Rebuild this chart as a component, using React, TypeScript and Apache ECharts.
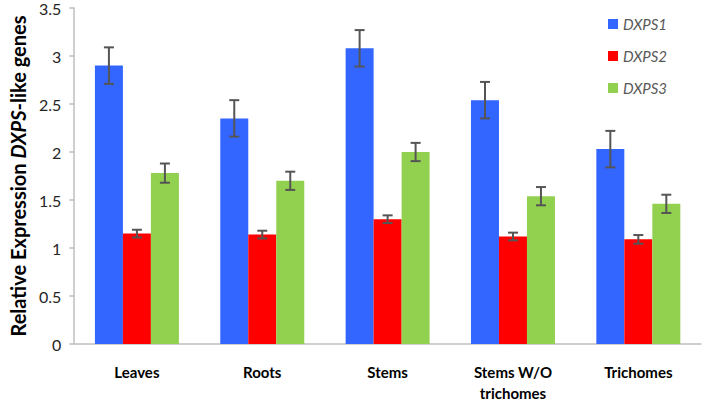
import React, { useEffect, useRef } from "react";
import * as echarts from "echarts";

const categories = ["Leaves", "Roots", "Stems", "Stems W/O\ntrichomes", "Trichomes"];
const seriesNames = ["DXPS1", "DXPS2", "DXPS3"];
const dxps1 = [2.9, 2.35, 3.08, 2.54, 2.03];
const dxps2 = [1.15, 1.14, 1.3, 1.12, 1.09];
const dxps3 = [1.78, 1.7, 2.0, 1.54, 1.46];
const err1 = [0.19, 0.19, 0.19, 0.19, 0.19];
const err2 = [0.04, 0.04, 0.04, 0.04, 0.045];
const err3 = [0.1, 0.095, 0.095, 0.095, 0.095];
const colors = ["#3366FF", "#FF0000", "#92D050"];

const FONT = "Lato";
const CAT_GAP = 0.33;

export default function App() {
  const ref = useRef<HTMLDivElement>(null);
  useEffect(() => {
    if (!ref.current) return;
    const chart = echarts.init(ref.current, null, { renderer: "svg" });
    const values = [dxps1, dxps2, dxps3];
    const errs = [err1, err2, err3];

    const barSeries = values.map((v, k) => ({
      name: seriesNames[k],
      type: "bar",
      data: v,
      barGap: "0%",
      barCategoryGap: "33%",
      itemStyle: { color: colors[k] },
      z: 2,
    }));

    const errSeries = values.map((v, k) => ({
      type: "custom",
      name: "err" + k,
      data: v.map((val, i) => [i, val - errs[k][i], val + errs[k][i]]),
      encode: { x: 0, y: [1, 2] },
      z: 5,
      renderItem: (params: any, api: any) => {
        const xi = api.value(0);
        const lo = api.coord([xi, api.value(1)]);
        const hi = api.coord([xi, api.value(2)]);
        const bandW = api.size([1, 0])[0];
        const barW = (bandW * (1 - CAT_GAP)) / 3;
        const cx = lo[0] + (k - 1) * barW;
        const cap = 5;
        const style = { stroke: "#555555", lineWidth: 2 };
        return {
          type: "group",
          children: [
            { type: "line", shape: { x1: cx, y1: lo[1], x2: cx, y2: hi[1] }, style },
            { type: "line", shape: { x1: cx - cap, y1: hi[1], x2: cx + cap, y2: hi[1] }, style },
            { type: "line", shape: { x1: cx - cap, y1: lo[1], x2: cx + cap, y2: lo[1] }, style },
          ],
        };
      },
    }));

    chart.setOption({
      animation: false,
      backgroundColor: "#ffffff",
      textStyle: { fontFamily: FONT },
      grid: { left: 63, right: 1, top: 8, bottom: 55, containLabel: false },
      legend: {
        data: seriesNames,
        orient: "vertical",
        left: 603,
        top: 10,
        itemWidth: 10,
        itemHeight: 10,
        itemGap: 14,
        icon: "rect",
        textStyle: {
          fontFamily: FONT,
          fontStyle: "italic",
          fontSize: 15,
          color: "#595959",
          lineHeight: 18,
        },
      },
      xAxis: {
        type: "category",
        data: categories,
        axisTick: { show: false },
        axisLine: { lineStyle: { color: "#BFBFBF", width: 1.5 } },
        axisLabel: {
          fontFamily: FONT,
          fontWeight: "bold",
          fontSize: 15,
          color: "#000000",
          margin: 17,
          lineHeight: 21,
          interval: 0,
        },
      },
      yAxis: {
        type: "value",
        min: 0,
        max: 3.5,
        interval: 0.5,
        splitLine: { show: false },
        axisLine: { show: true, lineStyle: { color: "#BFBFBF", width: 1.5 } },
        axisTick: { show: true, length: 5, lineStyle: { color: "#BFBFBF", width: 1.5 } },
        axisLabel: { fontFamily: FONT, fontSize: 16, lineHeight: 14, color: "#262626", margin: 13 },
        name: "{a|Relative Expression }{b|DXPS}{a|-like genes}",
        nameLocation: "middle",
        nameRotate: 90,
        nameGap: 45,
        nameTextStyle: {
          rich: {
            a: { fontFamily: FONT, fontWeight: "bold", fontSize: 20, color: "#000000" },
            b: { fontFamily: FONT, fontWeight: "bold", fontStyle: "italic", fontSize: 20, color: "#000000" },
          },
        },
      },
      series: [...barSeries, ...errSeries],
    } as any);
    return () => chart.dispose();
  }, []);
  return (
    <div
      ref={ref}
      style={{ position: "fixed", left: 0, top: 0, width: 702, height: 403 }}
    />
  );
}
